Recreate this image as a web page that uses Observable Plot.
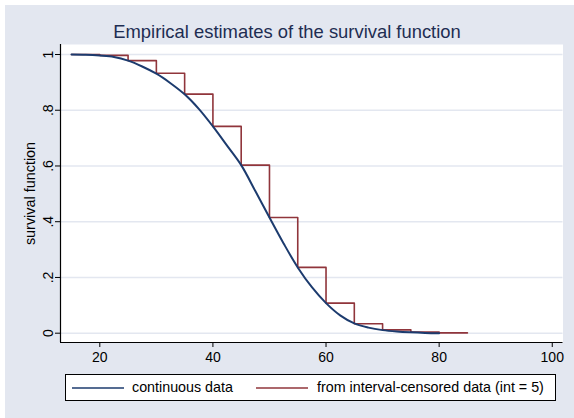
<!DOCTYPE html>
<html>
<head>
<meta charset="utf-8">
<script src="https://cdn.jsdelivr.net/npm/d3@7"></script>
<script src="https://cdn.jsdelivr.net/npm/@observablehq/plot@0.6"></script>
<style>
  html, body { margin: 0; padding: 0; background: #ffffff; }
  #wrap { position: relative; width: 574px; height: 418px; overflow: hidden; font-family: "Liberation Sans", Arial, sans-serif; }
  #bg { position: absolute; left: 5px; top: 5px; right: 0; bottom: 0; background: #e3e7f0; }
  #title { position: absolute; left: 0; width: 574px; top: 21px; text-align: center; font-size: 18.4px; color: #1e2d52; line-height: 22px; }
  #chart { position: absolute; left: 0; top: 0; }
  #legend { position: absolute; left: 65px; top: 374px; width: 489px; height: 25px; background: #fff; border: 1px solid #000; font-size: 14.3px; color: #000; }
  .sw { position: absolute; top: 12px; width: 52px; height: 0; border-top: 2px solid; }
  .lt { position: absolute; top: 4px; line-height: 16px; white-space: nowrap; }
</style>
</head>
<body>
<div id="wrap">
  <div id="bg"></div>
  <div id="chart"></div>
  <div id="title">Empirical estimates of the survival function</div>
  <div id="legend"></div>
</div>
<script>
// Continuous data (empirical survival curve)
const contTime = [15, 17.5, 20, 22.5, 25, 27.5, 30, 32.5, 35, 37.5, 40, 42.5, 45, 47.5, 50, 52.5, 55, 57.5, 60, 62.5, 65, 67.5, 70, 72.5, 75, 77.5, 80];
const contSurv = [1, 0.999, 0.996, 0.991, 0.978, 0.957, 0.931, 0.897, 0.857, 0.805, 0.742, 0.673, 0.603, 0.51, 0.415, 0.322, 0.236, 0.165, 0.108, 0.064, 0.035, 0.02, 0.011, 0.006, 0.003, 0.001, 0];

// Interval-censored estimate (int = 5), step function
const intTime = [15, 20, 25, 30, 35, 40, 45, 50, 55, 60, 65, 70, 75, 80, 85];
const intSurv = [1, 0.997, 0.978, 0.933, 0.858, 0.742, 0.603, 0.415, 0.236, 0.108, 0.034, 0.012, 0.004, 0.001, 0.001];

const xTicks = [20, 40, 60, 80, 100];
const yTicks = [0, 0.2, 0.4, 0.6, 0.8, 1];
const yTickLabels = ["0", ".2", ".4", ".6", ".8", "1"];

const seriesNames = ["continuous data", "from interval-censored data (int = 5)"];
const seriesColors = ["#1c3b6e", "#90353b"];

const cont = contTime.map((t, i) => ({t, s: contSurv[i]}));
const intv = intTime.map((t, i) => ({t, s: intSurv[i]}));

const chart = Plot.plot({
  width: 574,
  height: 418,
  marginLeft: 60,
  marginRight: 11.5,
  marginTop: 44,
  marginBottom: 76,
  style: { background: "transparent", fontFamily: "Liberation Sans, Arial, sans-serif", fontSize: "14px", color: "#000" },
  x: { domain: [13.05, 101.9] },
  y: { domain: [-0.0334, 1.0359] },
  marks: [
    Plot.frame({ fill: "white", stroke: null }),
    Plot.gridY(yTicks, { stroke: "#e3e7f0", strokeOpacity: 1, strokeWidth: 1.6 }),
    Plot.axisX({ ticks: xTicks, tickSize: 5, tickPadding: 5, label: null, fontSize: 14, stroke: "#000" }),
    Plot.axisY({ ticks: yTicks, tickSize: 5, tickPadding: 3, tickRotate: -90, label: null, fontSize: 14,
      tickFormat: d => yTickLabels[yTicks.indexOf(d)], stroke: "#000" }),
    Plot.ruleX([13.05], { stroke: "#000", strokeWidth: 1.2 }),
    Plot.ruleY([-0.0334], { stroke: "#000", strokeWidth: 1.2 }),
    Plot.text(["survival function"], { frameAnchor: "left", textAnchor: "middle", dx: -30, rotate: -90, fontSize: 14.4, fill: "#000" }),
    Plot.line(intv, { x: "t", y: "s", curve: "step-after", stroke: seriesColors[1], strokeWidth: 1.6 }),
    Plot.line(cont, { x: "t", y: "s", curve: "catmull-rom", stroke: seriesColors[0], strokeWidth: 2 })
  ]
});
document.getElementById("chart").appendChild(chart);

const legend = document.getElementById("legend");
const swX = [6, 190];
const txX = [66, 251];
seriesNames.forEach((name, i) => {
  const sw = document.createElement("div");
  sw.className = "sw";
  sw.style.left = swX[i] + "px";
  sw.style.borderTopColor = seriesColors[i];
  sw.style.opacity = 0.75;
  legend.appendChild(sw);
  const tx = document.createElement("div");
  tx.className = "lt";
  tx.style.left = txX[i] + "px";
  tx.textContent = name;
  legend.appendChild(tx);
});
</script>
</body>
</html>
